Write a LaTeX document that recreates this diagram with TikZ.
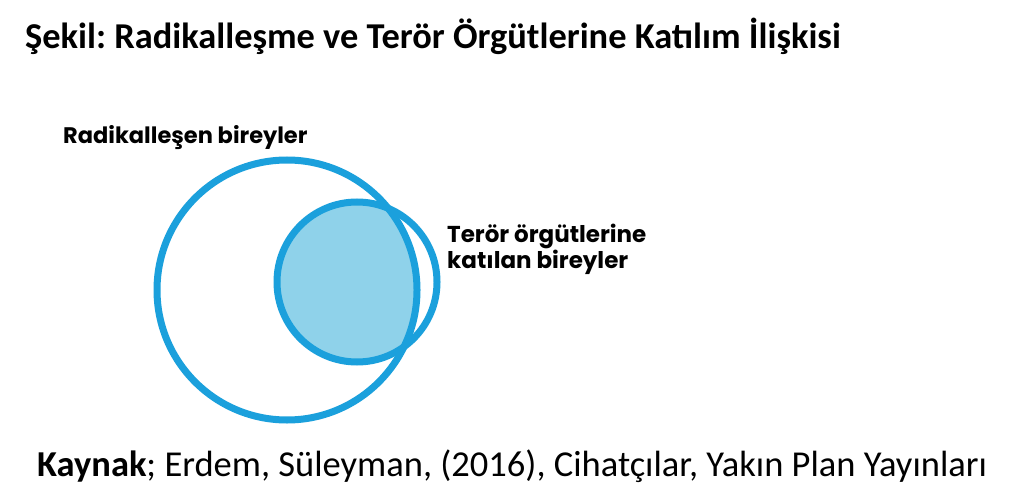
\documentclass[tikz,border=0pt]{standalone}
\usepackage{fontspec}
\setmainfont{Carlito}
\newfontfamily\labelfont{Poppins}
\definecolor{ringblue}{RGB}{27,160,220}
\definecolor{fillblue}{RGB}{143,210,234}
\frenchspacing
\begin{document}
\begin{tikzpicture}[x=1pt,y=-1pt,
  ring/.style={draw=ringblue,line width=7pt},
  lbl/.style={anchor=base west,inner sep=0pt,font=\labelfont\bfseries\fontsize{22.5}{24}\selectfont},
  ttl/.style={anchor=base west,inner sep=0pt}]
\useasboundingbox[fill=white] (0,0) rectangle (1024,486);
\begin{scope}
  \clip (287,290) circle (130);
  \fill[fillblue] (357,282) circle (80);
\end{scope}
\draw[ring] (287,290) circle (130);
\draw[ring] (357,282) circle (80);
\node[ttl,font=\bfseries\fontsize{36.4}{40}\selectfont] (title) at (25,49) {Şekil: Radikalleşme ve Terör Örgütlerine Katılım İlişkisi};
\node[lbl] (rad) at (63,144) {Radikalleşen bireyler};
\node[lbl,align=left,font=\labelfont\bfseries\fontsize{23}{23}\selectfont] (ter) at (447,268) {Terör örgütlerine\\katılan bireyler};
\node[ttl,font=\fontsize{36.5}{42}\selectfont] (src) at (37,476) {\textbf{Kaynak}; Erdem, Süleyman, (2016), Cihatçılar, Yakın Plan Yayınları};
\end{tikzpicture}
\end{document}
